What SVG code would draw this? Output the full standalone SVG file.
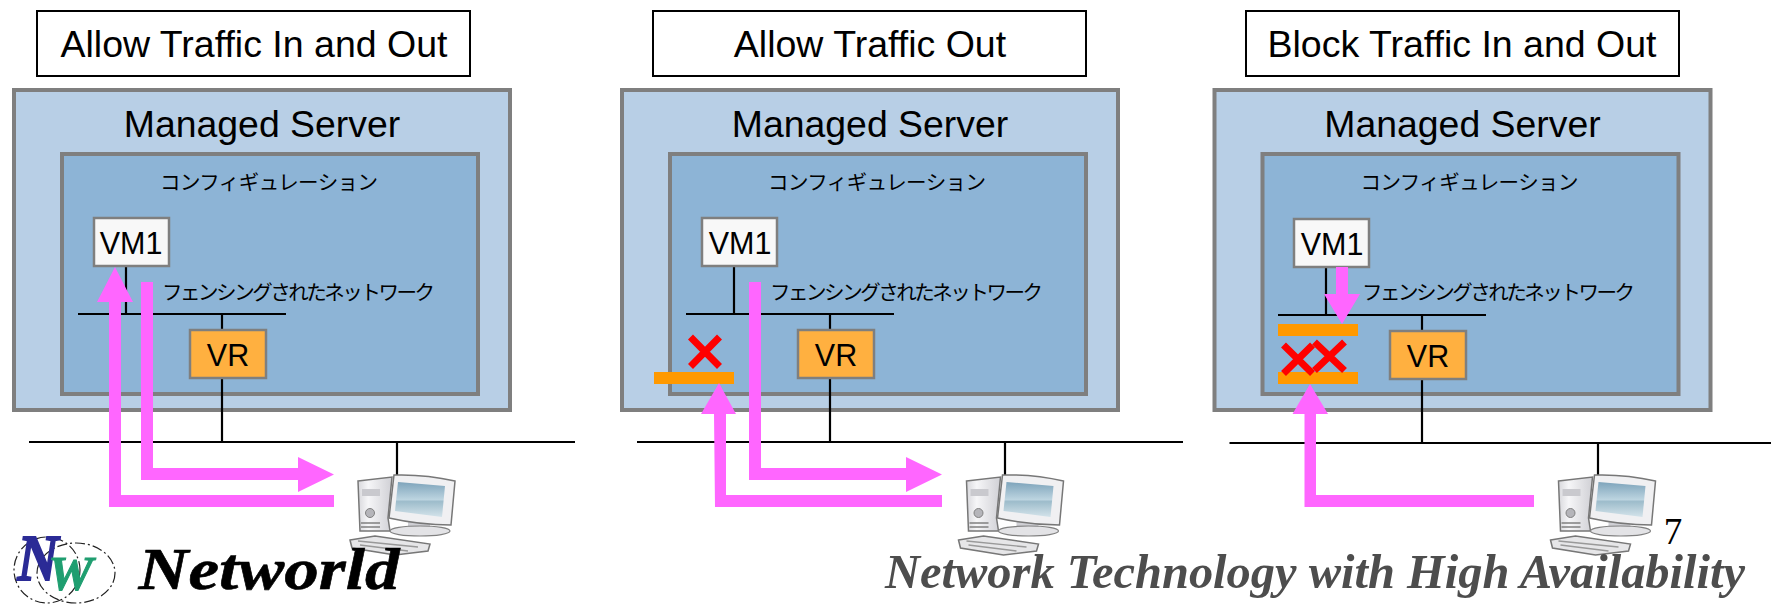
<svg xmlns="http://www.w3.org/2000/svg" xmlns:xlink="http://www.w3.org/1999/xlink" width="1771" height="608" viewBox="0 0 1771 608">
<style>
.title{fill:#fff;stroke:#000;stroke-width:2}
.outer{fill:#b8cfe6;stroke:#7f7f7f;stroke-width:4}
.inner{fill:#8db4d6;stroke:#7f7f7f;stroke-width:4}
.vm{fill:#f8f8f8;stroke:#7f7f7f;stroke-width:2.5}
.vr{fill:#ffb040;stroke:#7f7f7f;stroke-width:2.5}
.wire{fill:none;stroke:#000;stroke-width:2.2}
.flow{fill:#ff66ff}
.bar{fill:#ff9900}
.cross{fill:none;stroke:#ff0000;stroke-width:7}
text{fill:#000;font-family:"Liberation Sans",Arial,sans-serif;text-anchor:middle}
.t37{font-size:37.500px}
.t36{font-size:37.400px}
.t30{font-size:30.500px}
.jp{font-family:"Liberation Sans","Noto Sans CJK JP",sans-serif;font-size:20.500px}
.brand{font-family:"Liberation Serif","Times New Roman",serif;font-weight:bold;font-style:italic}
.ring{fill:none;stroke:#222;stroke-width:1.200;stroke-dasharray:10 3 2 3}
</style>
<defs>
<linearGradient id="scr" x1="0" y1="0" x2="0" y2="1">
<stop offset="0" stop-color="#7ea4bb"/><stop offset="0.5" stop-color="#bcd4e0"/><stop offset="0.56" stop-color="#9dbccb"/><stop offset="1" stop-color="#d3e3ea"/>
</linearGradient>
<linearGradient id="case" x1="0" y1="0" x2="1" y2="0">
<stop offset="0" stop-color="#d8d8dc"/><stop offset="0.3" stop-color="#f6f6f8"/><stop offset="1" stop-color="#d0d0d5"/>
</linearGradient>
<g id="pc">
<path d="M8 7 L42 3 L38 44 L40 57 L10 57 Z" fill="url(#case)" stroke="#777" stroke-width="1.500"/>
<path d="M12 15 L30 15 V22 L12 22 Z" fill="#c9c9ce"/>
<circle cx="20" cy="39" r="4.500" fill="#b5b5ba" stroke="#808080" stroke-width="1"/>
<path d="M11 49 H30 M11 53 H30" stroke="#808080" stroke-width="1.400" fill="none"/>
<path d="M58 46 H80 V55 H58 Z" fill="#cfcfd4"/>
<ellipse cx="70" cy="57" rx="30" ry="5" fill="#e3e3e6" stroke="#808080" stroke-width="1.200"/>
<path d="M44 1 Q75 0 105 7 L101 51 Q70 51 39 44 Z" fill="#f0f0f2" stroke="#777" stroke-width="1.500"/>
<path d="M48 8 L95 12 L92 43 L45 37 Z" fill="url(#scr)"/>
<path d="M0 66 L25 62 L80 70 L78 77 L45 81 L2 74 Z" fill="#e6e6e8" stroke="#777" stroke-width="1.500"/>
<path d="M8 67 L68 73 M10 71 L58 77" stroke="#999" stroke-width="1.400" fill="none"/>
</g>
</defs>
<rect width="1771" height="608" fill="#fff"/>

<g id="title-1"><rect class="title" x="37" y="11" width="433" height="65"/><text class="t37" x="254" y="57">Allow Traffic In and Out</text></g>
<g id="title-2"><rect class="title" x="653" y="11" width="433" height="65"/><text class="t37" x="870" y="57">Allow Traffic Out</text></g>
<g id="title-3"><rect class="title" x="1246" y="11" width="433" height="65"/><text class="t37" x="1462" y="57">Block Traffic In and Out</text></g>

<g id="server-1"><rect class="outer" x="14" y="90" width="496" height="320"/><text class="t36" x="262" y="137">Managed Server</text></g>
<g id="server-2"><rect class="outer" x="622" y="90" width="496" height="320"/><text class="t36" x="870" y="137">Managed Server</text></g>
<g id="server-3"><rect class="outer" x="1214.500" y="90" width="496" height="320"/><text class="t36" x="1462.500" y="137">Managed Server</text></g>

<g id="config-1"><rect class="inner" x="62" y="154" width="416" height="240"/><text class="jp" x="269" y="190" textLength="218">コンフィギュレーション</text></g>
<g id="config-2"><rect class="inner" x="670" y="154" width="416" height="240"/><text class="jp" x="877" y="190" textLength="218">コンフィギュレーション</text></g>
<g id="config-3"><rect class="inner" x="1262.500" y="154" width="416" height="240"/><text class="jp" x="1469.500" y="190" textLength="218">コンフィギュレーション</text></g>

<g id="connectors">
<path class="wire" d="M78 314 H286 M126 266 V314 M222 314 V442 M29 442 H575 M397 442 V476"/>
<path class="wire" d="M686 314 H894 M734 266 V314 M830 314 V442 M637 442 H1183 M1005 442 V476"/>
<path class="wire" d="M1278 315 H1486 M1326 266 V315 M1422 315 V443 M1229.500 443 H1771 M1598 443 V476"/>
</g>

<g id="vm1-1"><rect class="vm" x="94" y="218" width="75" height="48"/><text class="t30" x="131" y="254">VM1</text></g>
<g id="vm1-2"><rect class="vm" x="702" y="218" width="75" height="48"/><text class="t30" x="740" y="254">VM1</text></g>
<g id="vm1-3"><rect class="vm" x="1294" y="219" width="75" height="48"/><text class="t30" x="1332" y="255">VM1</text></g>

<g id="vr-1"><rect class="vr" x="190" y="330" width="76" height="48"/><text class="t30" x="228" y="366">VR</text></g>
<g id="vr-2"><rect class="vr" x="798" y="330" width="76" height="48"/><text class="t30" x="836" y="366">VR</text></g>
<g id="vr-3"><rect class="vr" x="1390" y="331" width="76" height="48"/><text class="t30" x="1428" y="367">VR</text></g>

<g id="net-label-1"><text class="jp" x="298.500" y="300" textLength="273">フェンシングされたネットワーク</text></g>
<g id="net-label-2"><text class="jp" x="906.500" y="300" textLength="273">フェンシングされたネットワーク</text></g>
<g id="net-label-3"><text class="jp" x="1498.500" y="300" textLength="273">フェンシングされたネットワーク</text></g>

<g id="pc-1"><use xlink:href="#pc" href="#pc" x="350" y="474"/></g>
<g id="pc-2"><use xlink:href="#pc" href="#pc" x="958.500" y="474"/></g>
<g id="pc-3"><use xlink:href="#pc" href="#pc" x="1550.500" y="474"/></g>

<g id="block-2">
<rect class="bar" x="654" y="372" width="80" height="12"/>
<path class="cross" d="M690.500 337 L719.500 366.500 M719.500 337 L690.500 366.500"/>
</g>
<g id="block-3">
<rect class="bar" x="1278" y="324" width="80" height="12"/>
<rect class="bar" x="1278" y="372" width="80" height="12"/>
<path class="cross" d="M1283.500 345 L1312.500 373.500 M1312.500 345 L1283.500 373.500"/>
<path class="cross" d="M1314.500 342 L1344.500 370.500 M1344.500 342 L1314.500 370.500"/>
</g>

<g id="flows">
<path class="flow" d="M115 267 L133 302 H121 V495 H334 V507 H109 V302 H97 Z"/>
<path class="flow" d="M141 282 H153 V468 H298 V457 L334 474.500 L298 492 V480 H141 Z"/>
<path class="flow" d="M719 383 L736 414 H726 V495 H942 V507 H715 L714 414 H701 Z"/>
<path class="flow" d="M749 282 H761 V468 H906 V457 L942 474.500 L906 492 V480 H749 Z"/>
<path class="flow" d="M1336 267 H1348 V294 H1360 L1342 324 L1324 294 H1336 Z"/>
<path class="flow" d="M1310 384 L1328 414 H1316 V495 H1534 V507 H1304.500 V414 H1292.500 Z"/>
</g>

<g id="logo">
<circle class="ring" cx="47" cy="570" r="33"/>
<ellipse class="ring" cx="76" cy="573" rx="39" ry="30"/>
<text class="brand" x="38" y="580" font-size="65" style="fill:#2b2b96;stroke:#2b2b96;stroke-width:2" textLength="41" lengthAdjust="spacingAndGlyphs">N</text>
<text class="brand" x="70.500" y="590" font-size="48" style="fill:#1f9e70;stroke:#1f9e70;stroke-width:1" textLength="45" lengthAdjust="spacingAndGlyphs">W</text>
<text class="brand" x="269" y="589" font-size="60" style="stroke:#000;stroke-width:0.600" textLength="261" lengthAdjust="spacingAndGlyphs">Networld</text>
</g>
<g id="tagline"><text class="brand" x="1315" y="588" font-size="48" style="fill:#4d4d4d" textLength="860" lengthAdjust="spacingAndGlyphs">Network Technology with High Availability</text></g>
<g id="page-number"><text x="1673" y="544" font-size="37" style="font-family:'Liberation Serif',serif">7</text></g>
</svg>
